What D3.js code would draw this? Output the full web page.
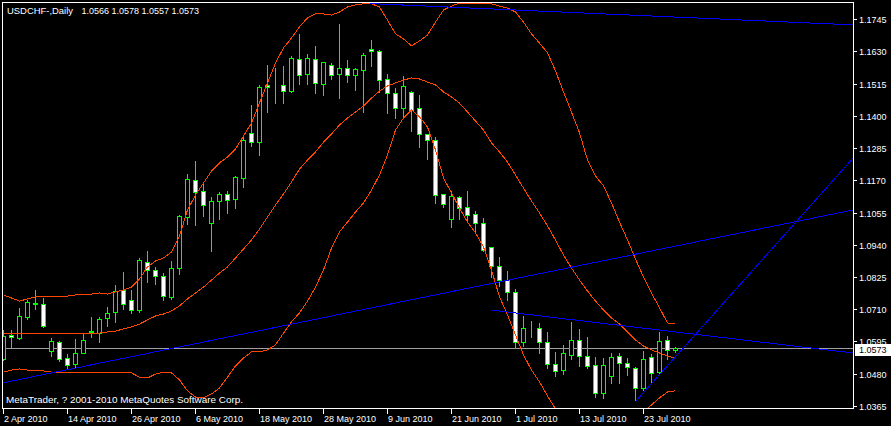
<!DOCTYPE html>
<html><head><meta charset="utf-8">
<script src="https://cdn.jsdelivr.net/npm/d3@7"></script>
<style>
html,body{margin:0;padding:0;background:#000;}
svg{display:block;}
text{font-family:"Liberation Sans",Arial,sans-serif;}
</style></head><body>
<svg id="chart" width="891" height="426"></svg>
<script>
// ---------------- data ----------------
const symbolLabel = "USDCHF-,Daily";
const open = [1.0534,1.0619,1.0607,1.0683,1.0731,1.0728,1.0562,1.0594,1.0535,1.0514,
1.0555,1.0632,1.0624,1.0678,1.0699,1.0779,1.0742,1.0706,1.0877,1.0849,
1.0828,1.0755,1.0856,1.1038,1.1170,1.1131,1.1017,1.1095,1.1120,1.1102,
1.1177,1.1337,1.1308,1.1508,1.1511,1.1509,1.1487,1.1601,1.1550,1.1601,
1.1514,1.1580,1.1548,1.1569,1.1546,1.1564,1.1637,1.1630,1.1530,1.1480,
1.1429,1.1484,1.1427,1.1334,1.1313,1.1120,1.1031,1.1109,1.1074,1.1049,
1.1017,1.0932,1.0863,1.0813,1.0773,1.0592,1.0641,1.0642,1.0592,1.0514,
1.0492,1.0546,1.0599,1.0542,1.0510,1.0410,1.0473,1.0542,1.0517,1.0499,
1.0428,1.0539,1.0485,1.0599,1.0566];
const high = [1.0638,1.0638,1.0719,1.0745,1.0781,1.0753,1.0611,1.0600,1.0553,1.0606,
1.0629,1.0686,1.0686,1.0722,1.0800,1.0848,1.0781,1.0895,1.0921,1.0864,
1.0843,1.0886,1.1049,1.1197,1.1242,1.1165,1.1114,1.1132,1.1135,1.1189,
1.1331,1.1442,1.1513,1.1585,1.1573,1.1581,1.1617,1.1694,1.1623,1.1652,
1.1596,1.1590,1.1730,1.1601,1.1573,1.1628,1.1673,1.1638,1.1554,1.1501,
1.1545,1.1492,1.1478,1.1340,1.1328,1.1126,1.1135,1.1117,1.1135,1.1064,
1.1040,1.0936,1.0900,1.0850,1.0785,1.0690,1.0672,1.0666,1.0634,1.0561,
1.0586,1.0668,1.0642,1.0615,1.0543,1.0539,1.0558,1.0557,1.0539,1.0508,
1.0565,1.0553,1.0634,1.0618,1.0578];
const low = [1.0528,1.0576,1.0605,1.0674,1.0710,1.0648,1.0543,1.0525,1.0496,1.0505,
1.0553,1.0610,1.0594,1.0650,1.0666,1.0710,1.0696,1.0699,1.0808,1.0801,
1.0743,1.0748,1.0837,1.1014,1.1010,1.1043,1.0919,1.1031,1.1054,1.1072,
1.1147,1.1292,1.1260,1.1414,1.1447,1.1447,1.1486,1.1513,1.1513,1.1482,
1.1474,1.1531,1.1464,1.1521,1.1492,1.1414,1.1577,1.1486,1.1411,1.1393,
1.1397,1.1347,1.1288,1.1246,1.1090,1.1076,1.1002,1.1031,1.1025,1.0981,
1.0919,1.0826,1.0794,1.0743,1.0573,1.0580,1.0612,1.0555,1.0499,1.0472,
1.0479,1.0532,1.0508,1.0499,1.0396,1.0392,1.0446,1.0446,1.0476,1.0386,
1.0422,1.0452,1.0482,1.0532,1.0557];
const close = [1.0615,1.0610,1.0686,1.0736,1.0727,1.0651,1.0597,1.0532,1.0510,1.0553,
1.0599,1.0630,1.0674,1.0696,1.0776,1.0728,1.0706,1.0885,1.0849,1.0828,
1.0756,1.0856,1.1041,1.1174,1.1127,1.1081,1.1095,1.1120,1.1099,1.1181,
1.1313,1.1305,1.1501,1.1504,1.1509,1.1487,1.1605,1.1546,1.1605,1.1516,
1.1591,1.1546,1.1569,1.1544,1.1566,1.1616,1.1630,1.1529,1.1480,1.1429,
1.1505,1.1422,1.1334,1.1313,1.1116,1.1084,1.1114,1.1070,1.1047,1.1017,
1.0922,1.0863,1.0813,1.0770,1.0593,1.0642,1.0640,1.0592,1.0516,1.0489,
1.0553,1.0599,1.0542,1.0507,1.0410,1.0510,1.0539,1.0517,1.0503,1.0428,
1.0532,1.0482,1.0596,1.0564,1.0573];

// Bollinger bands
const bbUpper = [1.0761,1.0750,1.0739,1.0747,1.0754,1.0757,1.0757,1.0757,1.0757,1.0761,
1.0764,1.0764,1.0768,1.0764,1.0772,1.0779,1.0789,1.0818,1.0861,1.0882,
1.0893,1.0914,1.0971,1.1064,1.1117,1.1160,1.1203,1.1232,1.1253,1.1281,
1.1328,1.1374,1.1446,1.1517,1.1588,1.1642,1.1677,1.1717,1.1749,1.1763,
1.1763,1.1759,1.1770,1.1788,1.1795,1.1799,1.1799,1.1788,1.1741,1.1692,
1.1674,1.1649,1.1667,1.1688,1.1734,1.1777,1.1791,1.1802,1.1802,1.1802,
1.1802,1.1799,1.1791,1.1784,1.1770,1.1734,1.1692,1.1659,1.1624,1.1560,
1.1485,1.1413,1.1339,1.1242,1.1185,1.1150,1.1089,1.1021,1.0957,1.0889,
1.0825,1.0768,1.0715,1.0661,1.0657];
const bbMid = [1.0625,1.0625,1.0622,1.0622,1.0622,1.0622,1.0622,1.0622,1.0622,1.0622,
1.0622,1.0622,1.0625,1.0629,1.0632,1.0640,1.0647,1.0657,1.0672,1.0686,
1.0693,1.0704,1.0722,1.0747,1.0768,1.0789,1.0814,1.0839,1.0861,1.0893,
1.0925,1.0957,1.0996,1.1039,1.1082,1.1121,1.1164,1.1210,1.1242,1.1271,
1.1306,1.1335,1.1367,1.1392,1.1413,1.1435,1.1463,1.1488,1.1506,1.1517,
1.1527,1.1535,1.1531,1.1520,1.1510,1.1485,1.1467,1.1445,1.1413,1.1381,
1.1349,1.1303,1.1271,1.1235,1.1189,1.1142,1.1096,1.1053,1.1007,1.0957,
1.0903,1.0857,1.0814,1.0775,1.0739,1.0707,1.0679,1.0657,1.0629,1.0600,
1.0579,1.0565,1.0554,1.0543,1.0536];
const bbLower = [1.0486,1.0493,1.0497,1.0493,1.0490,1.0490,1.0486,1.0486,1.0483,1.0483,
1.0483,1.0483,1.0486,1.0486,1.0486,1.0486,1.0483,1.0468,1.0465,1.0479,
1.0486,1.0483,1.0458,1.0419,1.0397,1.0394,1.0408,1.0429,1.0468,1.0508,
1.0536,1.0558,1.0558,1.0565,1.0583,1.0625,1.0665,1.0697,1.0739,1.0789,
1.0850,1.0928,1.0986,1.1021,1.1057,1.1089,1.1135,1.1189,1.1260,1.1349,
1.1392,1.1421,1.1396,1.1360,1.1278,1.1178,1.1125,1.1071,1.1021,1.0982,
1.0932,1.0850,1.0754,1.0690,1.0618,1.0547,1.0493,1.0451,1.0401,1.0354,
1.0322,1.0301,1.0290,1.0308,1.0294,1.0265,1.0269,1.0294,1.0301,1.0312,
1.0344,1.0369,1.0394,1.0415,1.0419];

// trend lines: [bar index, price] end points
const trendA = [[-0.19, 1.0447], [106.19, 1.1064]];
const trendB = [[45.81, 1.1800], [106.19, 1.1724]];
const trendC = [[60.94, 1.0707], [106.19, 1.0554]];
const trendD = [[79.06, 1.0383], [106.19, 1.1249]];

const priceTicks = [1.1745,1.1630,1.1515,1.1400,1.1285,1.1170,1.1055,1.0940,1.0825,1.0710,1.0595,1.0480,1.0365];
const dateTickIndex = [0,8,16,24,32,40,48,56,64,72,80];
const dateTickLabels = ["2 Apr 2010","14 Apr 2010","26 Apr 2010","6 May 2010","18 May 2010","28 May 2010","9 Jun 2010","21 Jun 2010","1 Jul 2010","13 Jul 2010","23 Jul 2010"];
const copyright = "MetaTrader, ? 2001-2010 MetaQuotes Software Corp.";

// ---------------- drawing ----------------
const W = 891, H = 426;
const svg = d3.select("#chart");
svg.append("rect").attr("width", W).attr("height", H).attr("fill", "#000");

const x = d3.scaleLinear().domain([0, 84]).range([3.5, 675.5]);
const y = d3.scaleLinear().domain([1.0365, 1.1745]).range([406, 19]);
const py = v => Math.round(y(v)) + 0.5;

const defs = svg.append("defs");
defs.append("clipPath").attr("id", "plotClip")
  .append("rect").attr("x", 3).attr("y", 3).attr("width", 850).attr("height", 405);

const plot = svg.append("g").attr("clip-path", "url(#plotClip)").attr("shape-rendering", "crispEdges");

const n = close.length;
const lastClose = close[n - 1];

// bid line
plot.append("line").attr("x1", 3).attr("x2", 853)
  .attr("y1", py(lastClose)).attr("y2", py(lastClose))
  .attr("stroke", "#a0a0a0").attr("stroke-width", 1);

// candles
const idx = d3.range(n);
const cg = plot.append("g");
cg.selectAll("line.wick").data(idx).join("line").attr("class", "wick")
  .attr("x1", i => x(i)).attr("x2", i => x(i))
  .attr("y1", i => py(high[i])).attr("y2", i => py(low[i]))
  .attr("stroke", "#00ff00").attr("stroke-width", 1);
cg.selectAll("rect.body").data(idx).join("rect").attr("class", "body")
  .attr("x", i => x(i) - 2)
  .attr("y", i => py(Math.max(open[i], close[i])))
  .attr("width", 4)
  .attr("height", i => py(Math.min(open[i], close[i])) - py(Math.max(open[i], close[i])))
  .attr("fill", i => close[i] < open[i] ? "#ffffff" : "#000000")
  .attr("stroke", "#00ff00").attr("stroke-width", 1);

// bollinger bands
const bandLine = d3.line().x((d, i) => x(i)).y(d => y(d));
[bbUpper, bbMid, bbLower].forEach(arr => {
  plot.append("path").attr("d", bandLine(arr))
    .attr("fill", "none").attr("stroke", "#ff4500").attr("stroke-width", 1);
});

// trend lines
[trendA, trendB, trendC, trendD].forEach(t => {
  plot.append("line")
    .attr("x1", x(t[0][0])).attr("y1", y(t[0][1]))
    .attr("x2", x(t[1][0])).attr("y2", y(t[1][1]))
    .attr("stroke", "#0000ff").attr("stroke-width", 1);
});

// frame
svg.append("rect").attr("x", 2.5).attr("y", 2.5).attr("width", 851).attr("height", 406)
  .attr("fill", "none").attr("stroke", "#ffffff").attr("stroke-width", 1)
  .attr("shape-rendering", "crispEdges");

// price axis
const pa = svg.append("g");
priceTicks.forEach(v => {
  const ty = py(v);
  pa.append("line").attr("x1", 853).attr("x2", 857).attr("y1", ty).attr("y2", ty)
    .attr("stroke", "#fff").attr("shape-rendering", "crispEdges");
  pa.append("text").attr("x", 859).attr("y", ty + 3.2).attr("fill", "#fff")
    .attr("font-size", 9).text(v.toFixed(4));
});
// current price label
const cy = py(lastClose);
pa.append("rect").attr("x", 855).attr("y", cy - 4.5).attr("width", 36).attr("height", 12)
  .attr("fill", "#fff").attr("shape-rendering", "crispEdges");
pa.append("text").attr("x", 859).attr("y", cy + 4.5).attr("fill", "#000")
  .attr("font-size", 9).text(lastClose.toFixed(4));

// time axis
const ta = svg.append("g");
dateTickIndex.forEach((ti, k) => {
  ta.append("line").attr("x1", x(ti)).attr("x2", x(ti)).attr("y1", 408).attr("y2", 414)
    .attr("stroke", "#fff").attr("shape-rendering", "crispEdges");
  ta.append("text").attr("x", x(ti) + 0.5).attr("y", 421.5).attr("fill", "#fff")
    .attr("font-size", 9).text(dateTickLabels[k]);
});

// title
svg.append("text").attr("x", 7).attr("y", 14).attr("fill", "#fff").attr("font-size", 9)
  .attr("textLength", 66).attr("lengthAdjust", "spacingAndGlyphs").text(symbolLabel);
svg.append("text").attr("x", 81.5).attr("y", 14).attr("fill", "#fff").attr("font-size", 9)
  .text([open[n-1], high[n-1], low[n-1], close[n-1]].map(v => v.toFixed(4)).join(" "));

// copyright
svg.append("text").attr("x", 6).attr("y", 403).attr("fill", "#fff").attr("font-size", 9.5)
  .attr("textLength", 237).attr("lengthAdjust", "spacingAndGlyphs").text(copyright);
</script>
</body></html>
